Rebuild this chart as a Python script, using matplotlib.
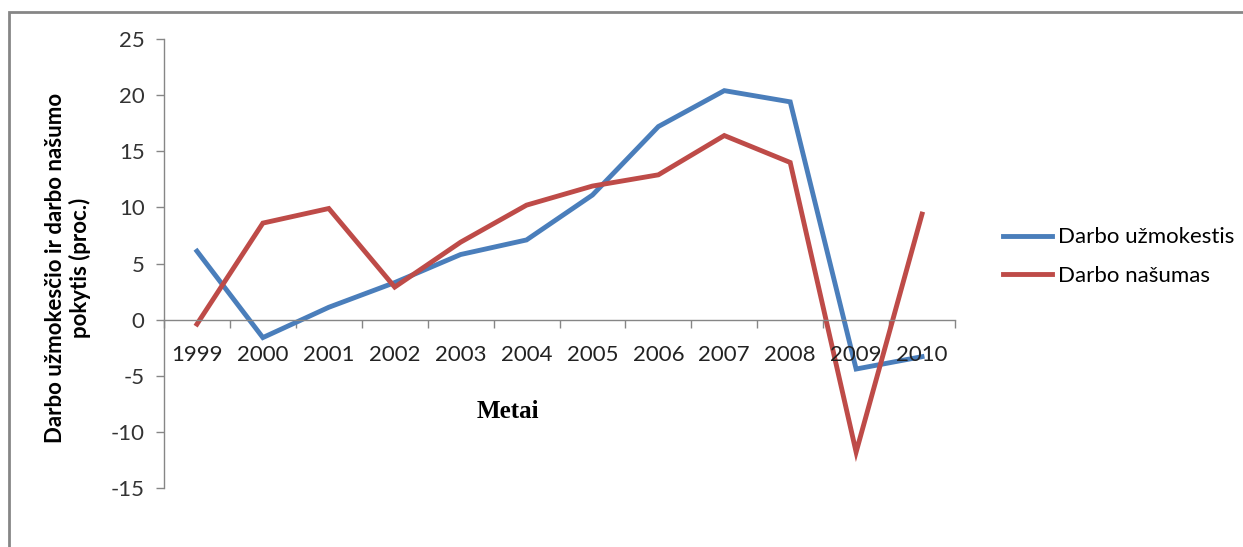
import matplotlib
matplotlib.use("Agg")
import matplotlib.pyplot as plt
from matplotlib.patches import Rectangle
import numpy as np

# duomenys
years = ["1999", "2000", "2001", "2002", "2003", "2004",
         "2005", "2006", "2007", "2008", "2009", "2010"]
uzmokestis = [6.1, -1.6, 1.1, 3.3, 5.8, 7.1, 11.1, 17.2, 20.4, 19.4, -4.4, -3.3]
nasumas = [-0.4, 8.6, 9.9, 2.9, 6.9, 10.2, 11.9, 12.9, 16.4, 14.0, -11.8, 9.4]
yticks = [-15, -10, -5, 0, 5, 10, 15, 20, 25]

BLUE = "#4a7ebb"
RED = "#be4b48"
GRAY = "#868686"
SANS = ["Lato", "DejaVu Sans"]
FS = 16

fig = plt.figure(figsize=(12.43, 5.47), dpi=100)

# rėmelis aplink diagramą
fig.patches.append(Rectangle((9 / 1243, -0.2), 1.2, 1.2 - 12 / 547,
                             transform=fig.transFigure, fill=False,
                             edgecolor=GRAY, linewidth=2.0))

ax = fig.add_axes([164 / 1243, 1 - 488 / 547, (955 - 164) / 1243, 449 / 547])
x = np.arange(len(years))
ax.plot(x, uzmokestis, color=BLUE, lw=3.5, label="Darbo užmokestis",
        solid_joinstyle="miter")
ax.plot(x, nasumas, color=RED, lw=3.5, label="Darbo našumas",
        solid_joinstyle="miter")

ax.set_xlim(-0.5, len(years) - 0.5)
ax.set_ylim(-15, 25)
ax.set_yticks(yticks)
ax.set_yticklabels([str(v) for v in yticks], family=SANS, fontsize=FS,
                   color="#333333")

# x ašis kerta ties 0
ax.spines["bottom"].set_position(("data", 0))
for s in ("top", "right"):
    ax.spines[s].set_visible(False)
for s in ("left", "bottom"):
    ax.spines[s].set_color(GRAY)
    ax.spines[s].set_linewidth(1.0)

ax.set_xticks(np.arange(len(years) + 1) - 0.5)
ax.set_xticklabels([])
ax.tick_params(axis="x", direction="out", length=6, color=GRAY, width=1)
ax.tick_params(axis="y", direction="out", length=6, color=GRAY, width=1, pad=8)
for i, yr in enumerate(years):
    ax.text(i, -2.3, yr, ha="center", va="top", family=SANS, fontsize=FS,
            color="#222222")

ax.text(0.435, 0.17, "Metai", transform=ax.transAxes, ha="center",
        va="center", family="Liberation Serif", fontweight="bold",
        fontsize=18)
fig.text(68 / 1243, 1 - 268 / 547,
         "Darbo užmokesčio ir darbo našumo\npokytis (proc.)",
         rotation=90, ha="center", va="center", family=SANS,
         fontweight="bold", fontsize=FS, linespacing=1.2)

ax.legend(loc="center left", bbox_to_anchor=(1.035, 0.515), frameon=False,
          prop={"family": SANS, "size": FS}, handlelength=2.2,
          handletextpad=0.3, labelspacing=0.85)

fig.savefig("out.png", dpi=100)
